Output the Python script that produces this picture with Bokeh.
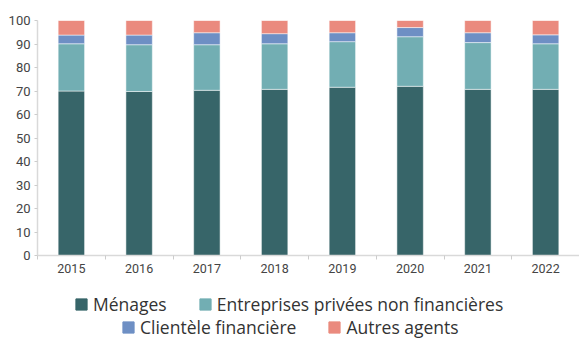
import numpy as np
from bokeh.plotting import figure
from bokeh.layouts import column
from bokeh.models import Range1d, FixedTicker, Legend, LegendItem, ColumnDataSource
from bokeh.embed import file_html
from bokeh.resources import INLINE

years = ["2015", "2016", "2017", "2018", "2019", "2020", "2021", "2022"]
menages = [70.0, 69.8, 70.3, 70.7, 71.6, 72.0, 70.7, 70.7]
entreprises = [20.1, 19.9, 19.4, 19.4, 19.4, 21.1, 19.9, 19.4]
clientele = [3.7, 4.1, 5.1, 4.3, 3.8, 3.9, 4.2, 3.8]
autres = [6.2, 6.2, 5.2, 5.6, 5.2, 3.0, 5.2, 6.1]

series_names = ["Ménages", "Entreprises privées non financières",
                "Clientèle financière", "Autres agents"]
colors = ["#376569", "#72aeb3", "#6e8fc4", "#ea8a7e"]

x = np.arange(len(years)) + 0.5
src = ColumnDataSource(dict(x=x, m=menages, e=entreprises, c=clientele, a=autres))

TICK_FONT = "Roboto"
LEG_FONT = "Open Sans"

p = figure(width=579, height=283, output_backend="svg", toolbar_location=None,
           x_range=Range1d(0, len(years)), y_range=Range1d(0, 100),
           min_border_left=37, min_border_right=0, min_border_top=20,
           min_border_bottom=28)
p.outline_line_color = None
p.grid.grid_line_color = None

rs = p.vbar_stack(["m", "e", "c", "a"], x="x", width=0.39, color=colors,
                  line_color="white", line_alpha=0.5, line_width=1, source=src)

# y axis
ya = p.yaxis[0]
ya.ticker = FixedTicker(ticks=list(range(0, 101, 10)))
ya.axis_line_color = "#d9d9d9"
ya.axis_line_width = 1.5
ya.major_tick_line_color = "#cccccc"
ya.major_tick_in = 0
ya.major_tick_out = 3
ya.minor_tick_line_color = None
ya.major_label_standoff = 4
ya.major_label_text_baseline = "alphabetic"
ya.major_label_text_font = TICK_FONT
ya.major_label_text_font_size = "13px"
ya.major_label_text_color = "#444444"

# x axis
xa = p.xaxis[0]
xa.ticker = FixedTicker(ticks=list(x), minor_ticks=list(range(0, len(years) + 1)))
xa.major_label_overrides = {float(xi): y for xi, y in zip(x, years)}
xa.axis_line_color = "#d9d9d9"
xa.axis_line_width = 1.5
xa.major_tick_line_color = None
xa.major_tick_in = 0
xa.major_tick_out = 0
xa.minor_tick_line_color = "#cccccc"
xa.minor_tick_in = 0
xa.minor_tick_out = 4
xa.major_label_standoff = 4
xa.major_label_text_font = TICK_FONT
xa.major_label_text_font_size = "12.5px"
xa.major_label_text_color = "#444444"

# legend strip (frame is aligned with the chart's frame by the column layout)
lf = figure(width=579, height=56, output_backend="svg", toolbar_location=None,
            x_range=Range1d(0, 1), y_range=Range1d(0, 1),
            x_axis_type=None, y_axis_type=None,
            min_border_left=0, min_border_right=0, min_border_top=0,
            min_border_bottom=0)
lf.outline_line_color = None
lf.grid.grid_line_color = None
legend_src = ColumnDataSource(dict(x=[np.nan], top=[np.nan]))
lrs = [lf.vbar(x="x", top="top", width=0.5, color=c, source=legend_src)
       for c in colors]

def make_legend(idx, loc):
    items = [LegendItem(label=series_names[i], renderers=[lrs[i]]) for i in idx]
    return Legend(items=items, orientation="horizontal", location=loc,
                  border_line_color=None, background_fill_alpha=0,
                  glyph_width=14, glyph_height=14, label_standoff=5, spacing=31,
                  padding=2, margin=0, label_height=19,
                  label_text_font=LEG_FONT, label_text_font_size="17.5px",
                  label_text_color="#333333")

lf.add_layout(make_legend([0, 1], (37, 23)), "center")
lf.add_layout(make_legend([2, 3], (84, 0)), "center")

layout = column(p, lf, spacing=0)
open("out.html", "w").write(file_html(layout, INLINE))
